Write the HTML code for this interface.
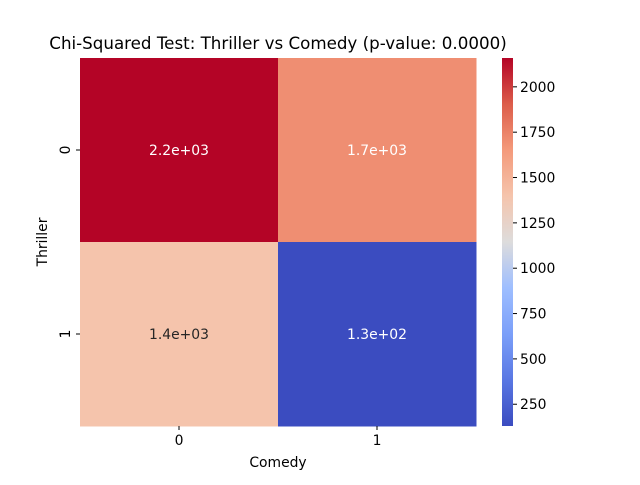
<!DOCTYPE html>
<html><head><meta charset="utf-8"><style>
body{margin:0;background:#fff;}
svg text{font-family:"DejaVu Sans","Liberation Sans",sans-serif;}
</style></head><body>
<svg id="chart" width="640" height="480" xmlns="http://www.w3.org/2000/svg">
<defs>
<linearGradient id="cw" x1="0" y1="1" x2="0" y2="0">
<stop offset="0" stop-color="#3b4cc0"/><stop offset="0.125" stop-color="#5977e3"/>
<stop offset="0.25" stop-color="#7b9ff9"/><stop offset="0.375" stop-color="#9ebeff"/>
<stop offset="0.5" stop-color="#dddcdc"/><stop offset="0.625" stop-color="#f5c4ac"/>
<stop offset="0.75" stop-color="#f49a7b"/><stop offset="0.875" stop-color="#dc5d4a"/>
<stop offset="1" stop-color="#b40426"/>
</linearGradient>
</defs>
<text x="278" y="49" text-anchor="middle" font-size="16.7" fill="#000">Chi-Squared Test: Thriller vs Comedy (p-value: 0.0000)</text>
<g id="cells"></g>
<rect x="502" y="58" width="11" height="368" fill="url(#cw)"/>
<g id="cbticks"></g>
<text x="278" y="467" text-anchor="middle" font-size="13.9">Comedy</text>
<text transform="translate(47,242) rotate(-90)" text-anchor="middle" font-size="13.9">Thriller</text>
</svg>
<script>
const xCats=["0","1"];
const yCats=["0","1"];
const values=[[2159,1700],[1400,130]];
const labels=[["2.2e+03","1.7e+03"],["1.4e+03","1.3e+02"]];
const cbTicks=[250,500,750,1000,1250,1500,1750,2000];
const vmin=130, vmax=2159;
const NS="http://www.w3.org/2000/svg";
const L=80,T=58,W=396,H=368;
const cw=W/xCats.length, ch=H/yCats.length;
const stops=[[0,[59,76,192]],[0.125,[89,119,227]],[0.25,[123,159,249]],[0.375,[158,190,255]],[0.5,[221,220,220]],[0.625,[245,196,172]],[0.75,[244,154,123]],[0.875,[220,93,74]],[1,[180,4,38]]];
function cmap(v){let t=Math.max(0,Math.min(1,(v-vmin)/(vmax-vmin)));
for(let i=1;i<stops.length;i++){if(t<=stops[i][0]){const a=stops[i-1],b=stops[i];const f=(t-a[0])/(b[0]-a[0]);
const c=a[1].map((x,k)=>Math.round(x+(b[1][k]-x)*f));return `rgb(${c})`;}}return "rgb(180,4,38)";}
function mk(tag,attrs,parent,txt){const e=document.createElementNS(NS,tag);for(const k in attrs)e.setAttribute(k,attrs[k]);if(txt!==undefined)e.textContent=txt;parent.appendChild(e);return e;}
const svg=document.getElementById('chart');
const g=document.getElementById('cells');
yCats.forEach((yc,i)=>{xCats.forEach((xc,j)=>{
 const v=values[i][j];
 const r=mk('rect',{x:L+j*cw,y:T+i*ch,width:cw+0.5,height:ch+0.5,fill:cmap(v)},g);
 
 
 const t=(v-vmin)/(vmax-vmin);
 const dark=(t>0.2&&t<0.7);
 const tx=mk('text',{x:L+j*cw+cw/2,y:T+i*ch+ch/2+5,'text-anchor':'middle','font-size':13.9,fill:dark?'#262626':'#fff'},g,labels[i][j]);
 
 
});});
xCats.forEach((c,j)=>{const x=L+j*cw+cw/2;
 mk('line',{x1:x,x2:x,y1:T+H,y2:T+H+4,stroke:'#000'},svg);
 const t=mk('text',{x:x,y:T+H+19,'text-anchor':'middle','font-size':13.9},svg,c);
 
 });
yCats.forEach((c,i)=>{const y=T+i*ch+ch/2;
 mk('line',{x1:L-4,x2:L,y1:y,y2:y,stroke:'#000'},svg);
 const t=mk('text',{transform:`translate(${L-10},${y}) rotate(-90)`,'text-anchor':'middle','font-size':13.9},svg,c);
 
 });
const cb=document.getElementById('cbticks');
cbTicks.forEach(v=>{const y=T+H-(v-vmin)/(vmax-vmin)*H;
 mk('line',{x1:513,x2:517,y1:y,y2:y,stroke:'#000'},cb);
 const t=mk('text',{x:520,y:y+5,'font-size':13.9},cb,String(v));
 
 });
</script>
</body></html>
